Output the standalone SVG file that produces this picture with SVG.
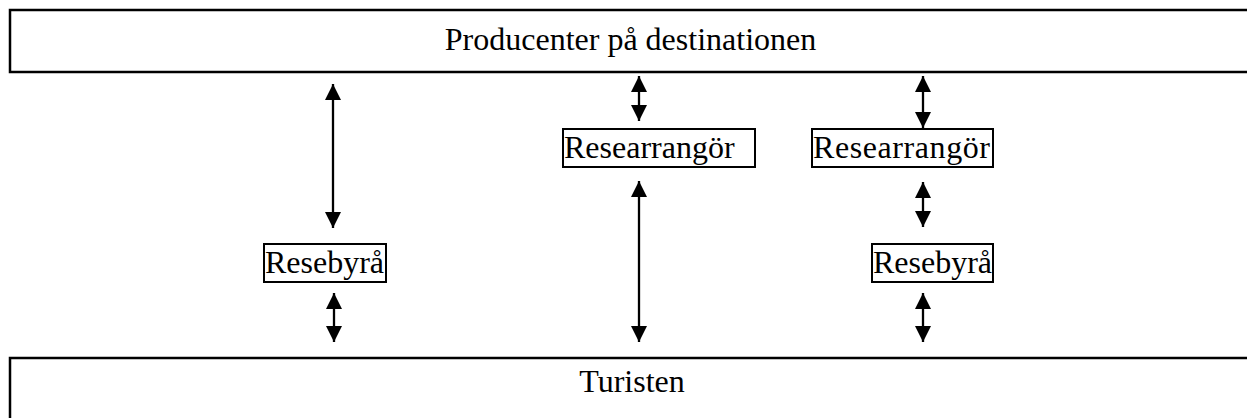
<svg xmlns="http://www.w3.org/2000/svg" width="1247" height="418" viewBox="0 0 1247 418">
<style>
.box{fill:#fff;stroke:#000;stroke-width:2.5}
.sbox{fill:#fff;stroke:#000;stroke-width:2}
.t{font-family:"Liberation Serif","Times New Roman",serif;font-size:32px;fill:#000}
.c{stroke:#000;stroke-width:2.3;fill:none;marker-start:url(#ah);marker-end:url(#ah)}
</style>
<defs>
<marker id="ah" markerUnits="userSpaceOnUse" markerWidth="16" markerHeight="16" refX="16" refY="8" orient="auto-start-reverse" viewBox="0 0 16 16">
<path d="M0,0 L16,8 L0,16 z" fill="#000"/>
</marker>
</defs>
<rect width="1247" height="418" fill="#fff"/>
<g id="producenter">
<rect class="box" x="10" y="10" width="1250" height="62"/>
<text class="t" x="630.5" y="50" text-anchor="middle">Producenter på destinationen</text>
</g>
<g id="turisten">
<rect class="box" x="10" y="358" width="1250" height="80"/>
<text class="t" x="632" y="392" text-anchor="middle">Turisten</text>
</g>
<g id="resebyra1">
<rect class="sbox" x="264" y="244" width="122" height="38"/>
<text class="t" x="265" y="273">Resebyrå</text>
</g>
<g id="researrangor1">
<rect class="sbox" x="563" y="129" width="192" height="38"/>
<text class="t" x="564" y="158">Researrangör</text>
</g>
<g id="researrangor2">
<rect class="sbox" x="812" y="129" width="181" height="38"/>
<text class="t" x="813" y="158" textLength="177" lengthAdjust="spacing">Researrangör</text>
</g>
<g id="resebyra2">
<rect class="sbox" x="872" y="244" width="121" height="38"/>
<text class="t" x="873" y="273">Resebyrå</text>
</g>
<g id="connectors">
<line class="c" x1="333" y1="84" x2="333" y2="228"/>
<line class="c" x1="334" y1="293" x2="334" y2="342"/>
<line class="c" x1="639" y1="76" x2="639" y2="121"/>
<line class="c" x1="639" y1="181" x2="639" y2="342"/>
<line class="c" x1="923" y1="76" x2="923" y2="128"/>
<line class="c" x1="923" y1="182" x2="923" y2="227"/>
<line class="c" x1="923" y1="293" x2="923" y2="342"/>
</g>
</svg>
